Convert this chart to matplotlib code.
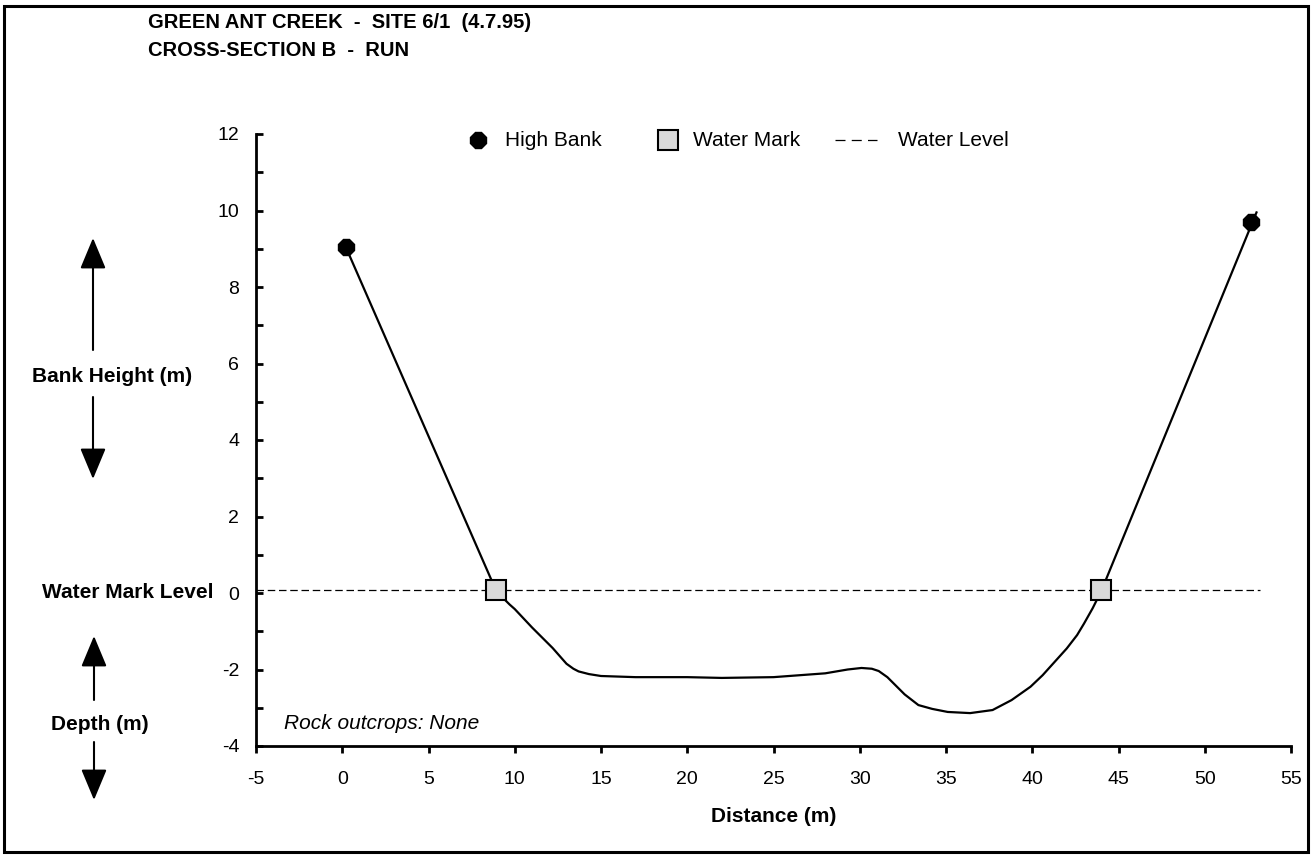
import matplotlib.pyplot as plt
from matplotlib.patches import Rectangle
from matplotlib.lines import Line2D
from matplotlib.transforms import IdentityTransform
from matplotlib.ticker import MultipleLocator

plt.rcParams['font.family'] = ['Liberation Sans', 'DejaVu Sans']
plt.rcParams['axes.unicode_minus'] = False

# cross-section profile (distance m, height m relative to water mark)
profile_x = [0.2, 8.9, 9.3, 9.7, 10.0, 11.0, 12.2, 13.0, 13.4, 13.7, 14.3, 15.0, 17.0,
             20.0, 22.0, 25.0, 28.0, 29.3, 30.1, 30.7, 31.1, 31.6, 32.6, 33.4, 34.2,
             35.1, 36.4, 37.7, 38.8, 39.9, 40.6, 41.3, 42.0, 42.6, 43.0, 43.5, 44.0,
             53.0]
profile_y = [9.05, 0.08, -0.12, -0.3, -0.42, -0.9, -1.44, -1.85, -1.98, -2.05, -2.12,
             -2.17, -2.2, -2.2, -2.22, -2.2, -2.1, -2.0, -1.96, -1.98, -2.04, -2.2,
             -2.65, -2.93, -3.03, -3.11, -3.14, -3.06, -2.8, -2.45, -2.15, -1.8, -1.45,
             -1.1, -0.8, -0.4, 0.05, 9.95]

high_bank_x = [0.2, 52.7]
high_bank_y = [9.05, 9.7]

water_mark_x = [8.9, 44.0]
water_mark_y = [0.08, 0.08]

water_level_x = [-5, 53.2]
water_level_y = [0.08, 0.08]

W, H = 1313, 856
fig = plt.figure(figsize=(W / 100, H / 100), dpi=100)
ax = fig.add_axes([256 / W, 1 - 746 / H, (1291 - 256) / W, (746 - 134) / H])

ax.plot(profile_x, profile_y, color='black', lw=1.6, zorder=3)
ax.plot(high_bank_x, high_bank_y, ls='none', marker='8', ms=13,
        color='black', zorder=4)
ax.plot(water_mark_x, water_mark_y, ls='none', marker='s', ms=14,
        mfc='#d9d9d9', mec='black', mew=1.5, zorder=4)
ax.plot(water_level_x, water_level_y, color='black', lw=0.9,
        dashes=(6, 3), zorder=2)

ax.set_xlim(-5, 55)
ax.set_ylim(-4, 12)
ax.xaxis.set_major_locator(MultipleLocator(5))
ax.yaxis.set_major_locator(MultipleLocator(2))
ax.yaxis.set_minor_locator(MultipleLocator(1))
ax.spines['top'].set_visible(False)
ax.spines['right'].set_visible(False)
for s in ['left', 'bottom']:
    ax.spines[s].set_linewidth(2)
ax.tick_params(axis='x', direction='out', length=5, width=2, labelsize=14, pad=13)
ax.tick_params(axis='y', which='both', direction='in', length=5, width=2,
               labelsize=14, pad=12)
ax.set_xlabel('Distance (m)', fontsize=15, fontweight='bold', labelpad=14)

ax.text(-3.4, -3.4, 'Rock outcrops: None', fontsize=15, style='italic', va='center')

# legend drawn by hand (pixel positions of reference legend row)
px = IdentityTransform()
ly = H - 140
fig.add_artist(Line2D([478], [ly], transform=px, ls='none', marker='8', ms=13,
                      color='black'))
fig.text(505 / W, ly / H, 'High Bank', fontsize=15, va='center')
fig.add_artist(Line2D([668], [ly], transform=px, ls='none', marker='s', ms=14,
                      mfc='#d9d9d9', mec='black', mew=1.5))
fig.text(693 / W, ly / H, 'Water Mark', fontsize=15, va='center')
fig.add_artist(Line2D([835, 877], [ly, ly], transform=px, color='black', lw=0.9,
                      dashes=(8, 5)))
fig.text(898 / W, ly / H, 'Water Level', fontsize=15, va='center')

# title
fig.text(148 / W, 1 - 22 / H, 'GREEN ANT CREEK  -  SITE 6/1  (4.7.95)',
         fontsize=14.5, fontweight='bold', va='center')
fig.text(148 / W, 1 - 50 / H, 'CROSS-SECTION B  -  RUN',
         fontsize=14.5, fontweight='bold', va='center')

# left side annotations
fig.text(112 / W, 1 - 377 / H, 'Bank Height (m)', fontsize=15, fontweight='bold',
         ha='center', va='center')
fig.text(214 / W, 1 - 593 / H, 'Water Mark Level', fontsize=15, fontweight='bold',
         ha='right', va='center')
fig.text(100 / W, 1 - 725 / H, 'Depth (m)', fontsize=15, fontweight='bold',
         ha='center', va='center')

arrow_style = dict(arrowstyle='-|>,head_length=1.2,head_width=0.5',
                   mutation_scale=16, lw=1.5, color='black', shrinkA=0, shrinkB=0)
for x0, y0, y1 in [(93, 350, 238), (93, 397, 479), (94, 700, 636), (94, 742, 800)]:
    ax.annotate('', xy=(x0, H - y1), xycoords='figure pixels',
                xytext=(x0, H - y0), textcoords='figure pixels',
                arrowprops=arrow_style)

# outer frame
fig.patches.append(Rectangle((4 / W, 4 / H), 1304 / W, 846 / H, transform=fig.transFigure,
                             fill=False, lw=2.2, edgecolor='black'))

fig.savefig('out.png', dpi=100)
